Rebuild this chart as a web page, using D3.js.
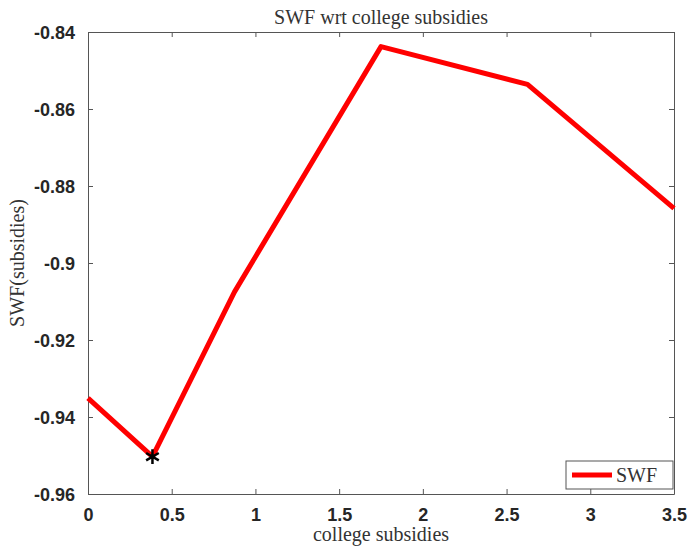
<!DOCTYPE html>
<html><head><meta charset="utf-8">
<script src="https://cdn.jsdelivr.net/npm/d3@7"></script>
<style>body{margin:0;background:#fff}</style>
</head><body>
<svg id="c" width="688" height="548"></svg>
<script>
const xValues = [0, 0.385, 0.875, 1.75, 2.625, 3.5];
const swfValues = [-0.9351, -0.9503, -0.9075, -0.8438, -0.8536, -0.8858];
const starPoint = [0.385, -0.9503];
const xTicks = [0, 0.5, 1, 1.5, 2, 2.5, 3, 3.5];
const yTicks = [-0.96, -0.94, -0.92, -0.9, -0.88, -0.86, -0.84];
const titleText = "SWF wrt college subsidies";
const xLabelText = "college subsidies";
const yLabelText = "SWF(subsidies)";
const legendText = "SWF";

const svg = d3.select("#c");
const L = 88, R = 674, T = 32, B = 494;
const x = d3.scaleLinear().domain([0, 3.5]).range([L, R]);
const y = d3.scaleLinear().domain([-0.96, -0.84]).range([B, T]);
const axisColor = "#555";
const tl = 5;
const serif = "'Liberation Serif', 'Times New Roman', serif";

// axes
const gx = svg.append("g").attr("transform", `translate(0,${B})`)
  .call(d3.axisBottom(x).tickValues(xTicks).tickSizeInner(-tl).tickSizeOuter(0).tickPadding(14).tickFormat(d => String(d)));
const gxt = svg.append("g").attr("transform", `translate(0,${T})`)
  .call(d3.axisTop(x).tickValues(xTicks).tickSizeInner(-tl).tickSizeOuter(0).tickFormat(""));
const gy = svg.append("g").attr("transform", `translate(${L},0)`)
  .call(d3.axisLeft(y).tickValues(yTicks).tickSizeInner(-tl).tickSizeOuter(0).tickPadding(13).tickFormat(d => String(d)));
const gyr = svg.append("g").attr("transform", `translate(${R},0)`)
  .call(d3.axisRight(y).tickValues(yTicks).tickSizeInner(-tl).tickSizeOuter(0).tickFormat(""));
[gx, gxt, gy, gyr].forEach(g => {
  g.selectAll("path").attr("stroke", axisColor).attr("stroke-width", 1);
  g.selectAll("line").attr("stroke", axisColor).attr("stroke-width", 1);
  g.selectAll("text").attr("fill", "#262626")
    .attr("font-family", "'Liberation Sans', Arial, sans-serif")
    .attr("font-weight", "bold").attr("font-size", "18px");
});
gx.selectAll("text").attr("dy", "0.71em");
gy.selectAll("text").attr("dy", "0.35em");

// line
const line = d3.line().x((d, i) => x(xValues[i])).y(d => y(d));
svg.append("path").datum(swfValues)
  .attr("d", line).attr("fill", "none").attr("stroke", "#ff0000")
  .attr("stroke-width", 5).attr("stroke-linejoin", "round");

// star marker
svg.append("path")
  .attr("d", d3.symbol().type(d3.symbolAsterisk).size(150)())
  .attr("transform", `translate(${x(starPoint[0])},${y(starPoint[1])})`)
  .attr("fill", "none").attr("stroke", "#000").attr("stroke-width", 2.5);

// title & labels
svg.append("text").attr("x", (L + R) / 2).attr("y", 24).attr("text-anchor", "middle")
  .attr("font-family", serif).attr("font-size", "20px")
  .attr("fill", "#333").text(titleText);
svg.append("text").attr("x", (L + R) / 2).attr("y", 541).attr("text-anchor", "middle")
  .attr("font-family", serif).attr("font-size", "20px")
  .attr("fill", "#333").text(xLabelText);
svg.append("text").attr("transform", `translate(24,${(T + B) / 2}) rotate(-90)`).attr("text-anchor", "middle")
  .attr("font-family", serif).attr("font-size", "20px")
  .attr("fill", "#333").text(yLabelText);

// legend
const lg = svg.append("g");
lg.append("rect").attr("x", 566).attr("y", 461).attr("width", 107).attr("height", 28)
  .attr("fill", "#fff").attr("stroke", "#555").attr("stroke-width", 1);
lg.append("line").attr("x1", 572).attr("x2", 612).attr("y1", 475).attr("y2", 475)
  .attr("stroke", "#ff0000").attr("stroke-width", 5);
lg.append("text").attr("x", 616).attr("y", 482)
  .attr("font-family", serif).attr("font-size", "20px")
  .attr("fill", "#333").text(legendText);
</script>
</body></html>
